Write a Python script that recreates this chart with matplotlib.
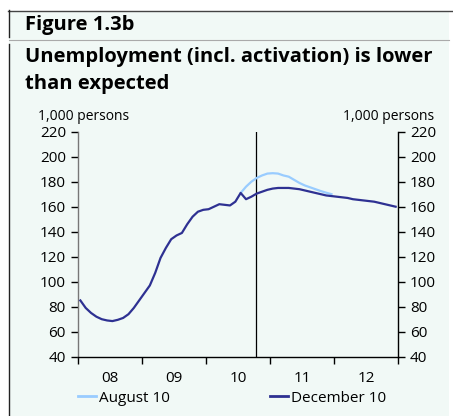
import numpy as np
import matplotlib
matplotlib.use("Agg")
import matplotlib.pyplot as plt
from matplotlib.lines import Line2D
from matplotlib.patches import Rectangle

plt.rcParams['font.family'] = ['Open Sans', 'DejaVu Sans']

# monthly registered unemployment incl. activation, 1,000 persons
dec10 = [85, 79, 75, 72, 70, 69, 68.5, 69.5, 71, 74, 79, 85,
         91, 97, 107, 119, 127, 134, 137, 139, 146, 152, 156, 157.5,
         158, 160, 162, 161.5, 161, 164, 171, 166, 168, 170.5, 172, 173.5,
         174.5, 175, 175, 175, 174.5, 174, 173, 172, 171, 170, 169, 168.5,
         168, 167.5, 167, 166, 165.5, 165, 164.5, 164, 163, 162, 161, 160]
aug10 = [171, 176, 180, 183, 185, 186.5, 186.8, 186.5, 185, 184, 181.5, 179,
         177, 175.5, 174, 172.5, 171.2, 170]
aug10_start = 30          # Jul 2010
forecast_split = 33.3     # end of Sep 2010
years = ['08', '09', '10', '11', '12']

W, H = 453, 416
bg = '#f1f9f6'
dark = '#2e3192'
light = '#99ccff'

fig = plt.figure(figsize=(W / 100, H / 100), dpi=100)
fig.patch.set_facecolor('white')

def px(x, y):
    return x / W, 1 - y / H

# panel background and frame lines
fig.patches.append(Rectangle(px(9, 416), (449 - 9) / W, (416 - 11) / H,
                             transform=fig.transFigure, facecolor=bg,
                             edgecolor='none', zorder=-5))
fig.add_artist(Line2D([8 / W, 1], [1 - 10.5 / H] * 2, color='#444444', lw=1))
fig.add_artist(Line2D([9 / W] * 2, [1 - 10 / H, 1 - 37 / H], color='#222222', lw=1))
fig.add_artist(Line2D([9 / W] * 2, [1 - 44 / H, 0], color='#222222', lw=1))
fig.add_artist(Line2D([9 / W, 449 / W], [1 - 39.5 / H] * 2, color='#aaaaaa', lw=0.8))

fig.text(25 / W, 1 - 25 / H, 'Figure 1.3b', fontsize=14.5, fontweight='bold',
         va='center', ha='left')
fig.text(25 / W, 1 - 57 / H, 'Unemployment (incl. activation) is lower',
         fontsize=14.5, fontweight='bold', va='center', ha='left')
fig.text(25 / W, 1 - 84 / H, 'than expected', fontsize=14.5, fontweight='bold',
         va='center', ha='left')
fig.text(38 / W, 1 - 116 / H, '1,000 persons', fontsize=10, va='center', ha='left')
fig.text(434 / W, 1 - 116 / H, '1,000 persons', fontsize=10, va='center', ha='right')

ax = fig.add_axes([77.7 / W, 59.3 / H, 320.6 / W, 225 / H])
ax.set_facecolor(bg)

x_dec = np.arange(len(dec10)) + 0.5
x_aug = np.arange(len(aug10)) + aug10_start + 0.5
ax.plot(x_aug, aug10, color=light, lw=1.6, zorder=2)
ax.plot(x_dec, dec10, color=dark, lw=1.6, zorder=3)
ax.axvline(forecast_split, color='black', lw=0.9, zorder=1)

ax.set_xlim(0, 60)
ax.set_ylim(40, 220)
ax.set_yticks(np.arange(40, 221, 20))
ax.set_xticks(np.arange(0, 61, 12))
ax.set_xticklabels([])
ax.set_xticks(np.arange(6, 60, 12), minor=True)
ax.set_xticklabels(years, minor=True)
ax.tick_params(axis='x', which='major', direction='out', length=5, width=1)
ax.tick_params(axis='x', which='minor', length=0, pad=10, labelsize=11)
ax.tick_params(axis='y', direction='out', length=5, width=1, labelsize=11,
               left=True, right=True, labelleft=True, labelright=True)
ax.spines['top'].set_visible(False)
ax.spines['left'].set_color('#777777')
for s in ['left', 'right', 'bottom']:
    ax.spines[s].set_linewidth(1)

handles = [Line2D([], [], color=light, lw=2), Line2D([], [], color=dark, lw=2)]
fig.legend(handles, ['August 10', 'December 10'], loc='center',
           bbox_to_anchor=(232 / W, 1 - 398 / H), ncol=2, frameon=False,
           fontsize=11, handlelength=1.2, handletextpad=0.2, columnspacing=6.5)

fig.savefig('out.png', dpi=100, facecolor=fig.get_facecolor())
